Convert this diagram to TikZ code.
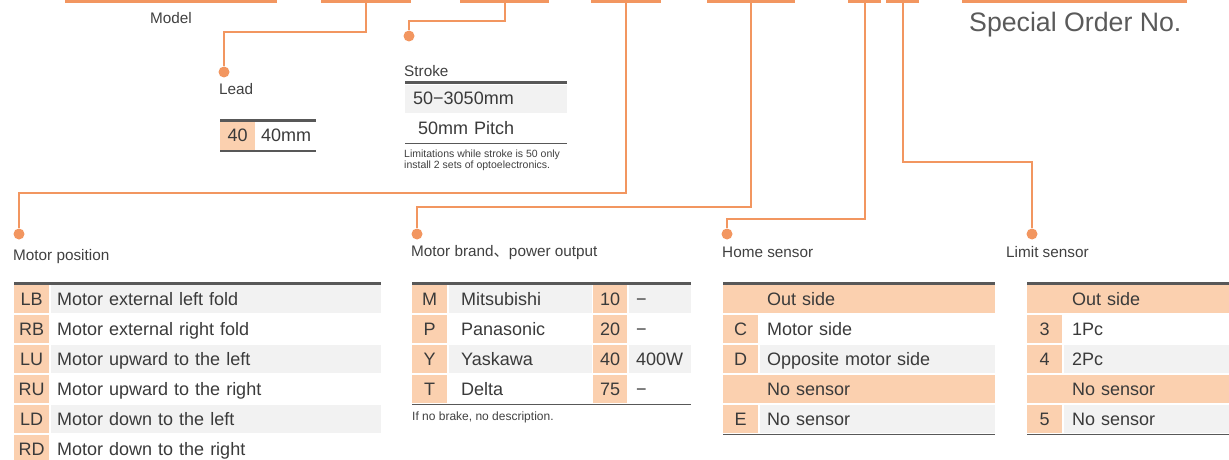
\documentclass[tikz,border=0pt]{standalone}
\usepackage{fontspec}
\setmainfont{Liberation Sans}
\newfontfamily\cjkfont{Noto Sans CJK SC}
\usetikzlibrary{positioning}
\definecolor{lineor}{RGB}{242,150,96}
\definecolor{peach}{RGB}{251,208,175}
\definecolor{rowgray}{RGB}{242,242,242}
\definecolor{rulegray}{RGB}{88,88,88}
\definecolor{txtgray}{RGB}{58,58,58}
\definecolor{lblgray}{RGB}{64,64,64}
\definecolor{ordergray}{RGB}{90,90,90}
\newcommand\tabfont{\fontsize{18}{20}\selectfont}
\newcommand\lblfont{\fontsize{15.3}{18}\selectfont}

\begin{document}
\begin{tikzpicture}[x=1pt,y=-1pt]
\tikzset{segbar/.style={fill=lineor,inner sep=0,minimum height=3pt,anchor=north west}}
\tikzset{bullet/.style={circle,fill=lineor,inner sep=0,minimum size=11pt}}
\tikzset{link/.style={draw=lineor,line width=2pt}}
\tikzset{lbl/.style={anchor=base west,inner sep=0,text=lblgray,font=\lblfont}}
\tikzset{code/.style={fill=peach,anchor=north west,inner sep=0,minimum width=35pt,minimum height=28pt,text height=15pt,text depth=3pt,text=txtgray,font=\tabfont}}
\tikzset{desc/.style 2 args={anchor=north west,inner xsep=#2,inner ysep=0,text width=#1,align=left,minimum height=28pt,text height=15pt,text depth=3pt,text=txtgray,font=\tabfont}}
\tikzset{toprule/.style={draw=rulegray,line width=3pt},botrule/.style={draw=rulegray,line width=1.8pt}}
\useasboundingbox (0,0) rectangle (1229,460);

% order code segments
\node[segbar,minimum width=212pt] (b1) at (65,0) {};
\node[segbar,minimum width=90pt] (b2) at (321,0) {};
\node[segbar,minimum width=89pt] (b3) at (460,0) {};
\node[segbar,minimum width=70pt] (b4) at (591,0) {};
\node[segbar,minimum width=88pt] (b5) at (707,0) {};
\node[segbar,minimum width=33pt] (b6) at (848,0) {};
\node[segbar,minimum width=33pt] (b7) at (886,0) {};
\node[segbar,minimum width=225pt] (b8) at (962,0) {};
\node[lbl] (model) at (150,24) {Model};
\node[anchor=base west,inner sep=0,text=ordergray,font=\fontsize{26.7}{30}\selectfont] (order) at (969,32) {Special Order No.};

% bullets and labels
\node[bullet] (dlead) at (224,72) {};
\node[lbl] (lead) at (219,95) {Lead};
\node[bullet] (dstroke) at (409,36) {};
\node[lbl] (stroke) at (404,77) {Stroke};
\node[bullet] (dpos) at (19,234) {};
\node[lbl] (pos) at (13,260) {Motor position};
\node[bullet] (dbrand) at (417,234) {};
\node[lbl] (brand) at (411,256) {Motor brand{\cjkfont 、}power output};
\node[bullet] (dhome) at (727,234) {};
\node[lbl] (home) at (722,257) {Home sensor};
\node[bullet] (dlimit) at (1032,234) {};
\node[lbl] (limit) at (1006,257) {Limit sensor};

\draw[link] (b2.south) -- ++(0,29) -| (dlead);
\draw[link] (b3.south) -- ++(0,18) -| (dstroke);
\draw[link] (b4.south) -- ++(0,190) -| (dpos);
\draw[link] (b5.south) -- ++(0,204) -| (dbrand);
\draw[link] (b6.south) -- ++(0,216) -| (dhome);
\draw[link] (b7.south) -- ++(0,159) -| (dlimit);

% lead
\draw[toprule] (220,120) -- (316,120);
\node[code] (l40) at (220,121.5) {40};
\node[desc={48pt}{6pt}] (l40t) at (255,121.5) {40mm};
\draw[botrule] (220,151) -- (316,151);

% stroke
\draw[toprule] (405,83) -- (567,83);
\node[desc={146pt}{8pt},fill=rowgray] (s1) at (405,84.5) {50−3050mm};
\node[desc={136pt}{13pt}] (s2) at (405,114) {50mm Pitch};
\draw[draw=rulegray,line width=1.5pt] (405,143.5) -- (567,143.5);
\node[anchor=base west,inner sep=0,align=left,text=lblgray,font=\fontsize{10.5}{11}\selectfont] (snote) at (404,168) {Limitations while stroke is 50 only\\install 2 sets of optoelectronics.};

% motor position
\draw[toprule] (14,283) -- (381,283);
\node[code] (lb) at (14,285) {LB};
\node[desc={318pt}{6pt},fill=rowgray] (lbt) at (51,285) {Motor external left fold};
\node[code] (rb) at (14,315) {RB};
\node[desc={318pt}{6pt}] (rbt) at (51,315) {Motor external right fold};
\node[code] (lu) at (14,345) {LU};
\node[desc={318pt}{6pt},fill=rowgray] (lut) at (51,345) {Motor upward to the left};
\node[code] (ru) at (14,375) {RU};
\node[desc={318pt}{6pt}] (rut) at (51,375) {Motor upward to the right};
\node[code] (ld) at (14,405) {LD};
\node[desc={318pt}{6pt},fill=rowgray] (ldt) at (51,405) {Motor down to the left};
\node[code] (rd) at (14,435) {RD};
\node[desc={318pt}{6pt}] (rdt) at (51,435) {Motor down to the right};

% motor brand
\draw[toprule] (412,283) -- (691,283);
\node[code] (bm) at (412,285) {M};
\node[desc={119pt}{12pt},fill=rowgray] (bmt) at (449,285) {Mitsubishi};
\node[code,minimum width=34pt] (p10) at (593,285) {10};
\node[desc={48pt}{7pt},fill=rowgray] (p10t) at (629,285) {−};
\node[code] (bp) at (412,315) {P};
\node[desc={119pt}{12pt}] (bpt) at (449,315) {Panasonic};
\node[code,minimum width=34pt] (p20) at (593,315) {20};
\node[desc={48pt}{7pt}] (p20t) at (629,315) {−};
\node[code] (by) at (412,345) {Y};
\node[desc={119pt}{12pt},fill=rowgray] (byt) at (449,345) {Yaskawa};
\node[code,minimum width=34pt] (p40) at (593,345) {40};
\node[desc={48pt}{7pt},fill=rowgray] (p40t) at (629,345) {400W};
\node[code] (bt) at (412,375) {T};
\node[desc={119pt}{12pt}] (btt) at (449,375) {Delta};
\node[code,minimum width=34pt] (p75) at (593,375) {75};
\node[desc={48pt}{7pt}] (p75t) at (629,375) {−};
\draw[botrule] (412,404.5) -- (691,404.5);
\node[anchor=base west,inner sep=0,text=lblgray,font=\fontsize{12}{14}\selectfont] (bnote) at (412,420) {If no brake, no description.};

% home sensor
\draw[toprule] (723,283) -- (995,283);
\node[desc={184pt}{44pt},fill=peach] (hout) at (723,285) {Out side};
\node[code] (hc) at (723,315) {C};
\node[desc={221pt}{7pt}] (hct) at (760,315) {Motor side};
\node[code] (hd) at (723,345) {D};
\node[desc={221pt}{7pt},fill=rowgray] (hdt) at (760,345) {Opposite motor side};
\node[desc={184pt}{44pt},fill=peach] (hno) at (723,375) {No sensor};
\node[code] (he) at (723,405) {E};
\node[desc={221pt}{7pt},fill=rowgray] (het) at (760,405) {No sensor};
\draw[botrule] (723,434.5) -- (995,434.5);

% limit sensor
\draw[toprule] (1027,283) -- (1240,283);
\node[desc={123pt}{45pt},fill=peach] (mout) at (1027,285) {Out side};
\node[code] (m3) at (1027,315) {3};
\node[desc={160pt}{8pt}] (m3t) at (1064,315) {1Pc};
\node[code] (m4) at (1027,345) {4};
\node[desc={160pt}{8pt},fill=rowgray] (m4t) at (1064,345) {2Pc};
\node[desc={123pt}{45pt},fill=peach] (mno) at (1027,375) {No sensor};
\node[code] (m5) at (1027,405) {5};
\node[desc={160pt}{8pt},fill=rowgray] (m5t) at (1064,405) {No sensor};
\draw[botrule] (1027,434.5) -- (1240,434.5);
\end{tikzpicture}
\end{document}
